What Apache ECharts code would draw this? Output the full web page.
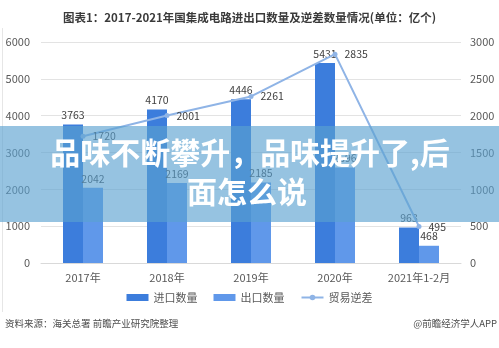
<!DOCTYPE html>
<html>
<head>
<meta charset="utf-8">
<script src="https://cdn.jsdelivr.net/npm/echarts@6/dist/echarts.min.js"></script>
<style>
  html, body { margin: 0; padding: 0; background: #ffffff; }
  #chart { width: 499px; height: 348px; }
</style>
</head>
<body>
<div id="chart"></div>
<script>
// Categories and series values (亿个)
const categories = ['2017年', '2018年', '2019年', '2020年', '2021年1-2月'];
const importQty = [3763, 4170, 4446, 5431, 963];
const exportQty = [2042, 2169, 2185, 2596, 468];
const tradeDeficit = [1720, 2001, 2261, 2835, 495];

const leftTicks = { min: 0, max: 6000, interval: 1000 };
const rightTicks = { min: 0, max: 3000, interval: 500 };

const titleText = '图表1：2017-2021年国集成电路进出口数量及逆差数量情况(单位：亿个)';
const sourceText = '资料来源：海关总署 前瞻产业研究院整理';
const brandText = '@前瞻经济学人APP';
const bannerLines = ['品味不断攀升，品味提升了,后', '面怎么说'];

const FONT = '"Microsoft YaHei", "Noto Sans CJK SC", sans-serif';
const labelStyle = { color: '#404040', fontSize: 10.5, fontFamily: FONT };
const plain = v => String(v);

const chart = echarts.init(document.getElementById('chart'), null, { renderer: 'canvas' });

chart.setOption({
  animation: false,
  backgroundColor: '#ffffff',
  title: {
    text: titleText,
    left: 'center',
    top: 7,
    textStyle: { fontSize: 11.5, fontWeight: 'bold', color: '#3a3a3a', fontFamily: FONT }
  },
  grid: { left: 41, right: 38, top: 42, bottom: 85 },
  legend: {
    bottom: 40,
    left: 'center',
    itemWidth: 22,
    itemHeight: 7,
    itemGap: 16,
    textStyle: { color: '#595959', fontSize: 11, fontFamily: FONT },
    data: [
      { name: '进口数量', icon: 'rect' },
      { name: '出口数量', icon: 'rect' },
      { name: '贸易逆差' }
    ]
  },
  xAxis: {
    type: 'category',
    data: categories,
    axisTick: { show: false },
    axisLine: { lineStyle: { color: '#d9d9d9' } },
    axisLabel: { color: '#595959', fontSize: 11, margin: 9, fontFamily: FONT }
  },
  yAxis: [
    {
      type: 'value',
      min: leftTicks.min, max: leftTicks.max, interval: leftTicks.interval,
      axisLine: { show: false },
      axisTick: { show: false },
      axisLabel: { color: '#595959', fontSize: 11, margin: 11, fontFamily: FONT, formatter: plain },
      splitLine: { lineStyle: { color: '#e3e3e3' } }
    },
    {
      type: 'value',
      min: rightTicks.min, max: rightTicks.max, interval: rightTicks.interval,
      axisLine: { show: false },
      axisTick: { show: false },
      axisLabel: { color: '#595959', fontSize: 11, margin: 9, fontFamily: FONT, formatter: plain },
      splitLine: { show: false }
    }
  ],
  series: [
    {
      name: '进口数量',
      type: 'bar',
      data: importQty,
      barWidth: 20,
      barGap: '0%',
      itemStyle: { color: '#3c7ddc' },
      label: Object.assign({ show: true, position: 'top', distance: 4 }, labelStyle)
    },
    {
      name: '出口数量',
      type: 'bar',
      data: exportQty,
      barWidth: 20,
      itemStyle: { color: '#6098ea' },
      label: Object.assign({ show: true, position: 'top', distance: 4 }, labelStyle)
    },
    {
      name: '贸易逆差',
      type: 'line',
      yAxisIndex: 1,
      data: tradeDeficit,
      symbol: 'circle',
      symbolSize: 5,
      z: 5,
      lineStyle: { color: '#8fb4e6', width: 2 },
      itemStyle: { color: '#8fb4e6' },
      label: Object.assign({ show: true, position: 'right', distance: 7 }, labelStyle)
    }
  ],
  graphic: [
    {
      type: 'line',
      z: 1,
      shape: { x1: 2.5, y1: 28, x2: 2.5, y2: 312 },
      style: { stroke: '#e6e6e6', lineWidth: 1 }
    },
    {
      type: 'text',
      left: 5,
      top: 319,
      style: { text: sourceText, fill: '#4d4d4d', font: '9.5px ' + FONT }
    },
    {
      type: 'text',
      right: 2,
      top: 319,
      style: { text: brandText, fill: '#4d4d4d', font: '9.5px ' + FONT }
    },
    {
      type: 'rect',
      z: 100,
      shape: { x: 0, y: 126, width: 499, height: 96 },
      style: { fill: 'rgba(91,161,208,0.64)' }
    },
    {
      type: 'text',
      z: 101,
      x: 250,
      y: 153,
      style: {
        text: bannerLines[0],
        fill: '#ffffff',
        font: 'bold 30px "Noto Sans CJK SC", sans-serif',
        align: 'center',
        verticalAlign: 'middle'
      }
    },
    {
      type: 'text',
      z: 101,
      x: 247,
      y: 192,
      style: {
        text: bannerLines[1],
        fill: '#ffffff',
        font: 'bold 30px "Noto Sans CJK SC", sans-serif',
        align: 'center',
        verticalAlign: 'middle'
      }
    }
  ]
});
</script>
</body>
</html>
